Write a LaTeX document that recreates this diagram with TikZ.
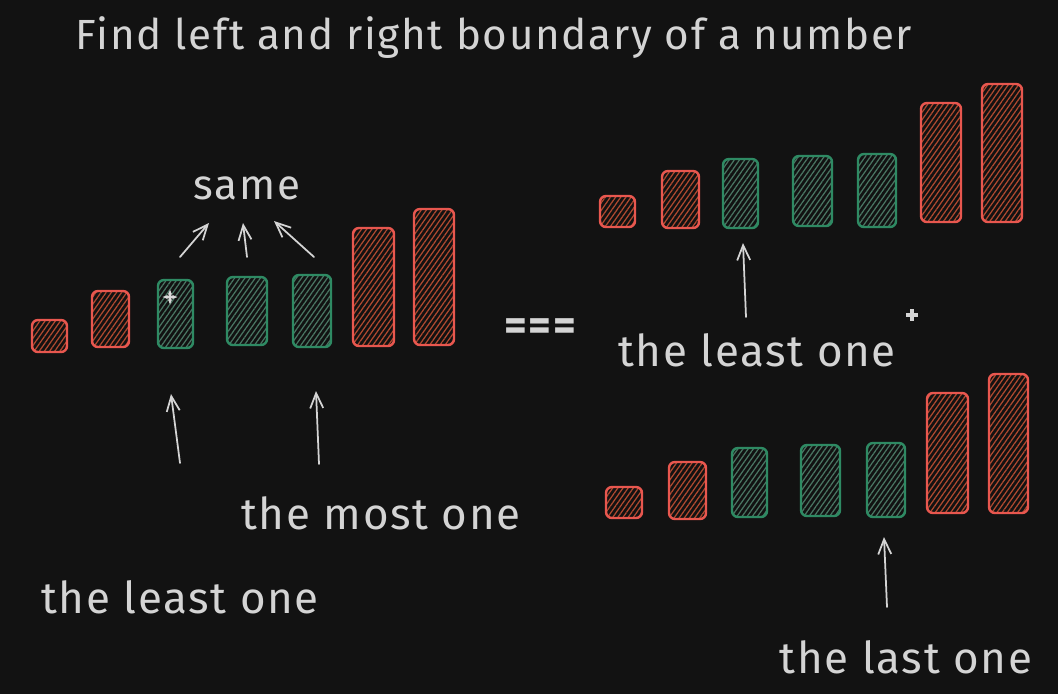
\documentclass[tikz,border=0pt]{standalone}
\usepackage{fontspec}
\setmainfont{Fira Sans}[LetterSpace=4]
\usetikzlibrary{arrows.meta,patterns.meta}

\definecolor{bgcol}{HTML}{121212}
\definecolor{inkcol}{HTML}{D4D4D4}
\definecolor{redline}{HTML}{E8574F}
\definecolor{redhatch}{HTML}{B04A30}
\definecolor{greenline}{HTML}{2E8A63}
\definecolor{greenhatch}{HTML}{4A7663}

\tikzset{
  redbar/.style={draw=redline, line width=1.4pt, rounded corners=0.12cm,
    pattern={Lines[angle=55,distance=2.4pt,line width=0.7pt]}, pattern color=redhatch},
  greenbar/.style={draw=greenline, line width=1.4pt, rounded corners=0.12cm,
    pattern={Lines[angle=55,distance=2.4pt,line width=0.7pt]}, pattern color=greenhatch},
  hand/.style={text=inkcol, inner sep=0pt, font=\fontsize{25}{29}\selectfont},
  sketcharrow/.style={draw=inkcol, line width=1pt, line cap=round,
    -{Straight Barb[length=0.3cm,width=0.26cm]}},
}

\begin{document}
\begin{tikzpicture}[x=0.02cm, y=-0.02cm]

% background
\fill[bgcol] (0,0) rectangle (1058,694);
\useasboundingbox (0,0) rectangle (1058,694);

% title
\node[hand, font=\fontsize{24}{28}\selectfont] (title) at (494,38) {Find left and right boundary of a number};

% left bars
\draw[redbar]   (32,320)  rectangle (67,352);
\draw[redbar]   (92,291)  rectangle (129,347);
\draw[greenbar] (158,280) rectangle (193,348);
\draw[greenbar] (227,277) rectangle (267,345);
\draw[greenbar] (293,275) rectangle (331,347);
\draw[redbar]   (353,228) rectangle (394,346);
\draw[redbar]   (414,209) rectangle (454,345);

% move cursor
\draw[black!60, line width=2.2pt, {Latex[length=3pt]}-{Latex[length=3pt]}] (162,297) -- (178,297);
\draw[black!60, line width=2.2pt, {Latex[length=3pt]}-{Latex[length=3pt]}] (170,289) -- (170,305);
\draw[white!85!black, line width=0.9pt, {Latex[length=3pt]}-{Latex[length=3pt]}] (162,297) -- (178,297);
\draw[white!85!black, line width=0.9pt, {Latex[length=3pt]}-{Latex[length=3pt]}] (170,289) -- (170,305);

% same
\node[hand, font=\fontsize{24}{28}\selectfont] (same) at (247,188) {same};
\coordinate (s1a) at (180,257); \coordinate (s1b) at (209,223);
\coordinate (s2a) at (247,257); \coordinate (s2b) at (243,223);
\coordinate (s3a) at (314,257); \coordinate (s3b) at (274,221);
\draw[sketcharrow] (s1a) -- (s1b);
\draw[sketcharrow] (s2a) -- (s2b);
\draw[sketcharrow] (s3a) -- (s3b);

% left pointers
\coordinate (la) at (180,463); \coordinate (lb) at (171,394);
\coordinate (ma) at (319,464); \coordinate (mb) at (316,391);
\draw[sketcharrow] (la) -- (lb);
\draw[sketcharrow] (ma) -- (mb);
\node[hand] (most) at (381,513) {the most one};
\node[hand] (leastL) at (180,597) {the least one};

% ===
\node[hand, font=\bfseries\fontsize{25}{29}\selectfont] (eq) at (540,330) {===};

% right top bars
\draw[redbar]   (600,196) rectangle (635,227);
\draw[redbar]   (662,171) rectangle (699,228);
\draw[greenbar] (723,159) rectangle (758,228);
\draw[greenbar] (793,156) rectangle (832,226);
\draw[greenbar] (858,154) rectangle (896,227);
\draw[redbar]   (921,103) rectangle (961,222);
\draw[redbar]   (982,84)  rectangle (1022,222);

\coordinate (ta) at (746,317); \coordinate (tb) at (743,243);
\draw[sketcharrow] (ta) -- (tb);
\node[hand] (leastR) at (757,350) {the least one};
\draw[inkcol, line width=2pt] (906,315) -- (918,315) (912,309) -- (912,321);

% right bottom bars
\draw[redbar]   (606,487) rectangle (642,518);
\draw[redbar]   (669,462) rectangle (706,519);
\draw[greenbar] (732,448) rectangle (767,517);
\draw[greenbar] (801,445) rectangle (840,516);
\draw[greenbar] (867,443) rectangle (905,517);
\draw[redbar]   (927,393) rectangle (968,513);
\draw[redbar]   (989,374) rectangle (1028,513);

\coordinate (ba) at (887,607); \coordinate (bb) at (884,537);
\draw[sketcharrow] (ba) -- (bb);
\node[hand] (last) at (906,657) {the last one};

\end{tikzpicture}
\end{document}
